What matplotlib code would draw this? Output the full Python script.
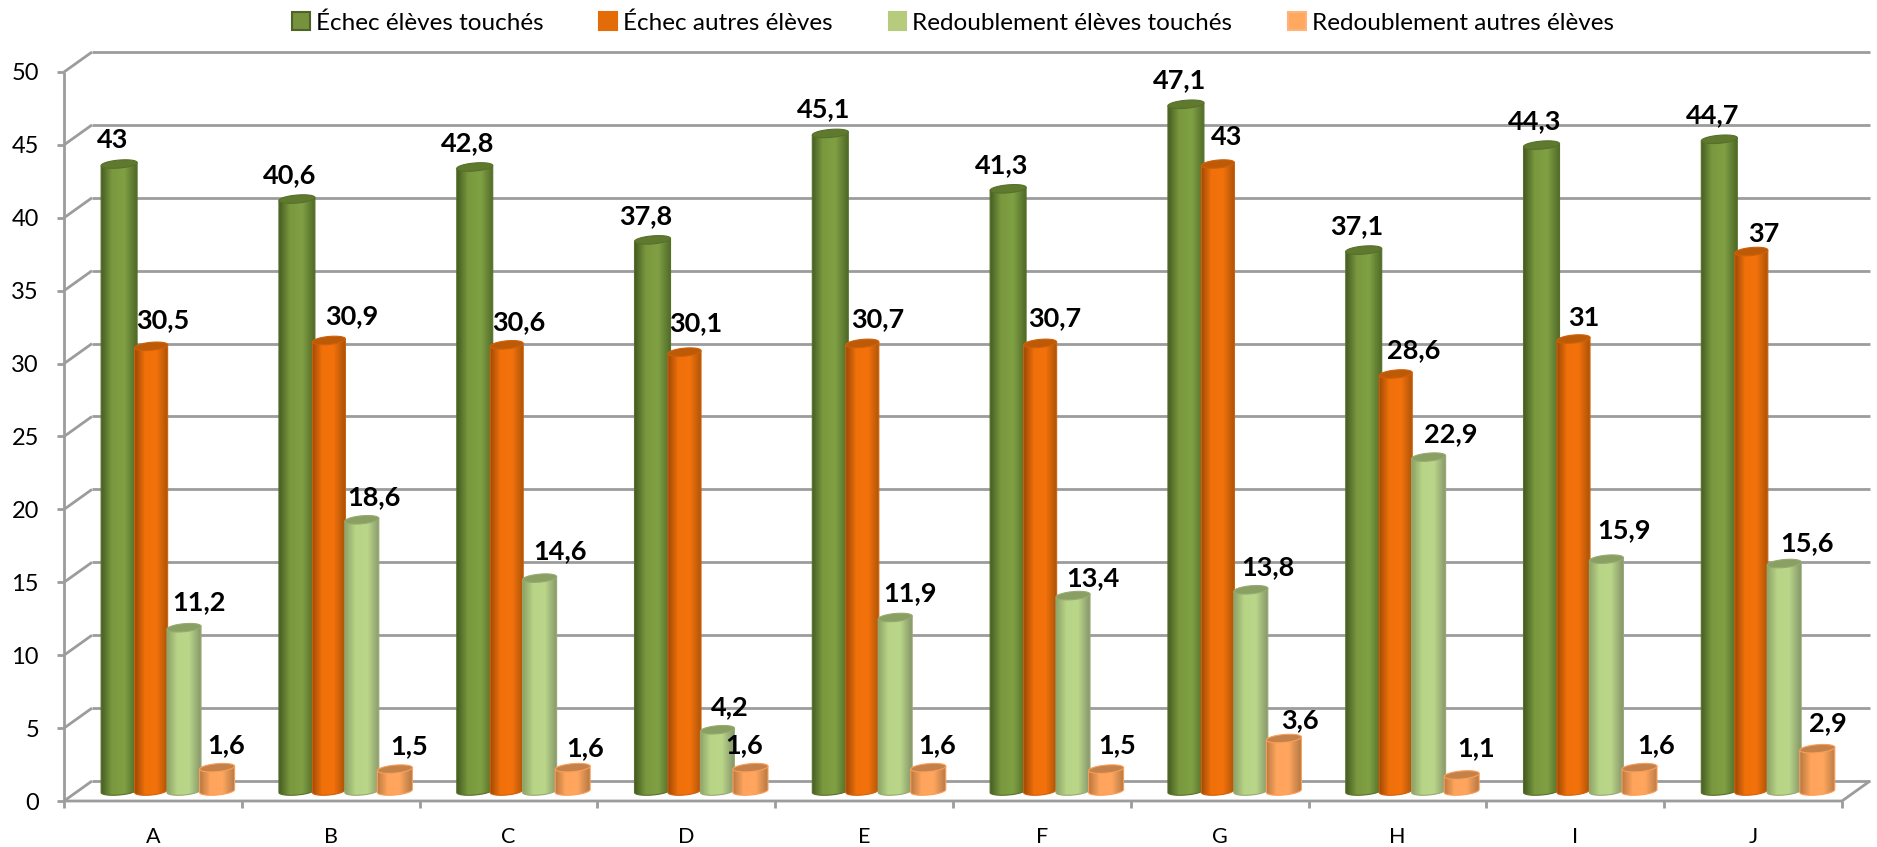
import numpy as np
import matplotlib
matplotlib.use("Agg")
from matplotlib import pyplot as plt
from matplotlib.colors import LinearSegmentedColormap
from matplotlib.patches import Patch, PathPatch, Polygon
from matplotlib.path import Path

plt.rcParams['font.family'] = ['Lato', 'DejaVu Sans']

categories = ['A', 'B', 'C', 'D', 'E', 'F', 'G', 'H', 'I', 'J']
echec_touches = [43, 40.6, 42.8, 37.8, 45.1, 41.3, 47.1, 37.1, 44.3, 44.7]
echec_autres = [30.5, 30.9, 30.6, 30.1, 30.7, 30.7, 43, 28.6, 31, 37]
redoub_touches = [11.2, 18.6, 14.6, 4.2, 11.9, 13.4, 13.8, 22.9, 15.9, 15.6]
redoub_autres = [1.6, 1.5, 1.6, 1.6, 1.6, 1.5, 3.6, 1.1, 1.6, 2.9]
series_names = ['Échec élèves touchés', 'Échec autres élèves',
                'Redoublement élèves touchés', 'Redoublement autres élèves']
yticks = [0, 5, 10, 15, 20, 25, 30, 35, 40, 45, 50]
all_series = [echec_touches, echec_autres, redoub_touches, redoub_autres]

# data labels were moved by hand in the original, offsets in pixels from the bar top
label_dx = [
    [-7, -7, -7, -7, -7, -7, -6, -7, -7, -7],
    [12, 23, 12, 11, 15, 15, 9, 18, 10, 12],
    [15, 12, 20, 12, 15, 20, 17, 22, 18, 23],
    [9, 14, 12, -6, 9, 11, 16, 14, 17, 11],
]
label_dy = [
    [25, 25, 25, 25, 25, 25, 25, 25, 25, 25],
    [27, 25, 24, 30, 25, 26, 28, 25, 22, 19],
    [27, 24, 28, 24, 25, 18, 24, 24, 30, 21],
    [24, 24, 21, 24, 24, 25, 19, 28, 24, 27],
]

# stops of the cylinder shading, left to right, then cap colour and edge colour
styles = [
    (['#465e24', '#7a993e', '#80a044', '#506a28'], '#5f7a2e', '#56702a'),
    (['#a04a06', '#f0700a', '#f4720c', '#ac5408'], '#bc5a08', '#d06008'),
    (['#8ea468', '#b8d486', '#bad688', '#88986c'], '#8aa062', '#96aa72'),
    (['#bc7a42', '#ffa45c', '#ffa65e', '#b87a46'], '#c4824a', '#fb9e58'),
]
legend_colors = ['#76923c', '#e36c09', '#b6cc7c', '#ffa860']
legend_edges = ['#4f6228', '#e36c09', '#b6cc7c', '#fdb47c']

FIG_W, FIG_H = 1877, 847
LEFT, RIGHT, BOTTOM, TOP = 64, 1842, 801, 72
PX_X = 10 / (RIGHT - LEFT)
PX_Y = 50 / (BOTTOM - TOP)
DEPTH_X, DEPTH_Y = 28 * PX_X, 20 * PX_Y
GREY = '#9c9c9c'
LW = 2.0

bar_pos = [0.31, 0.49, 0.675, 0.861]
bar_w = [36, 33, 34, 35]

fig = plt.figure(figsize=(FIG_W / 100, FIG_H / 100), dpi=100)
ax = fig.add_axes([LEFT / FIG_W, 1 - BOTTOM / FIG_H, (RIGHT - LEFT) / FIG_W, (BOTTOM - TOP) / FIG_H])


def ellipse(cx, cy, a, b, tilt, t0=0, t1=2 * np.pi):
    t = np.linspace(t0, t1, 60)
    return np.column_stack([cx + a * np.cos(t), cy + b * np.sin(t) + tilt * np.cos(t)])


def draw_cylinder(x, val, w, stops, cap, edge, z):
    a = w / 2 * PX_X
    b = 4 * PX_Y
    tilt = 1.5 * PX_Y
    y0 = DEPTH_Y / 2
    y1 = y0 + val
    bottom = ellipse(x, y0, a, b, tilt, np.pi, 2 * np.pi)
    verts = np.vstack([[[x - a, y1 - tilt]], bottom, [[x + a, y1 + tilt]], [[x - a, y1 - tilt]]])
    body = Path(verts)
    cmap = LinearSegmentedColormap.from_list('c', list(zip([0, 0.3, 0.65, 1], stops)))
    im = ax.imshow(np.linspace(0, 1, 64)[None, :], cmap=cmap, aspect='auto', interpolation='bilinear',
                   extent=(x - a, x + a, y0 - b - tilt, y1 + b), zorder=z)
    patch = PathPatch(body, transform=ax.transData, fc='none', ec='none')
    ax.add_patch(patch)
    im.set_clip_path(patch)
    ax.add_patch(PathPatch(body, fc='none', ec=edge, lw=0.8, zorder=z, clip_on=False))
    ax.add_patch(Polygon(ellipse(x, y1, a, b, tilt), closed=True, fc=cap, ec=edge, lw=0.8, zorder=z + 0.1,
                         clip_on=False))


# walls and floor
line_kw = dict(color=GREY, lw=LW, clip_on=False, solid_capstyle='butt', zorder=1)
for v in yticks:
    ax.plot([0, DEPTH_X], [v, v + DEPTH_Y], **line_kw)
    ax.plot([DEPTH_X, 10 + DEPTH_X], [v + DEPTH_Y, v + DEPTH_Y], **line_kw)
    ax.plot([-7 * PX_X, 0], [v, v], **line_kw)
ax.plot([0, 0], [0, 50], **line_kw)
ax.plot([0, 10, 10 + DEPTH_X], [0, 0, DEPTH_Y], **line_kw)
for i in range(11):
    ax.plot([i, i], [0, -7 * PX_Y], **line_kw)

for i in range(len(categories)):
    for s, vals in enumerate(all_series):
        stops, cap, edge = styles[s]
        # bars go left to right, each one overlaps the previous a little
        draw_cylinder(i + bar_pos[s], vals[i], bar_w[s], stops, cap, edge, 3 + s)
        ax.annotate(str(vals[i]).replace('.', ','), (i + bar_pos[s], vals[i] + DEPTH_Y / 2),
                    xytext=(label_dx[s][i] * 0.72, (label_dy[s][i] - 9) * 0.72), textcoords='offset points',
                    ha='center', va='baseline', fontsize=19.5, fontweight='bold', color='black', zorder=10,
                    annotation_clip=False)

ax.set_xlim(0, 10)
ax.set_ylim(0, 50)
ax.set_xticks(np.arange(10) + 0.5)
ax.set_xticklabels(categories)
ax.set_yticks(yticks)
ax.tick_params(axis='both', length=0, colors='black')
ax.tick_params(axis='x', labelsize=15.5, pad=19)
ax.tick_params(axis='y', labelsize=17, pad=18)
for sp in ax.spines.values():
    sp.set_visible(False)
ax.patch.set_alpha(0)

handles = [Patch(facecolor=legend_colors[s], edgecolor=legend_edges[s], lw=1.5) for s in range(4)]
fig.legend(handles, series_names, loc='center', bbox_to_anchor=(953 / FIG_W, 1 - 23 / FIG_H), ncol=4, frameon=False,
           fontsize=17.5, handlelength=0.72, handleheight=0.75, handletextpad=0.25, columnspacing=2.3,
           borderpad=0, labelspacing=0)

fig.savefig('out.png', dpi=100)
